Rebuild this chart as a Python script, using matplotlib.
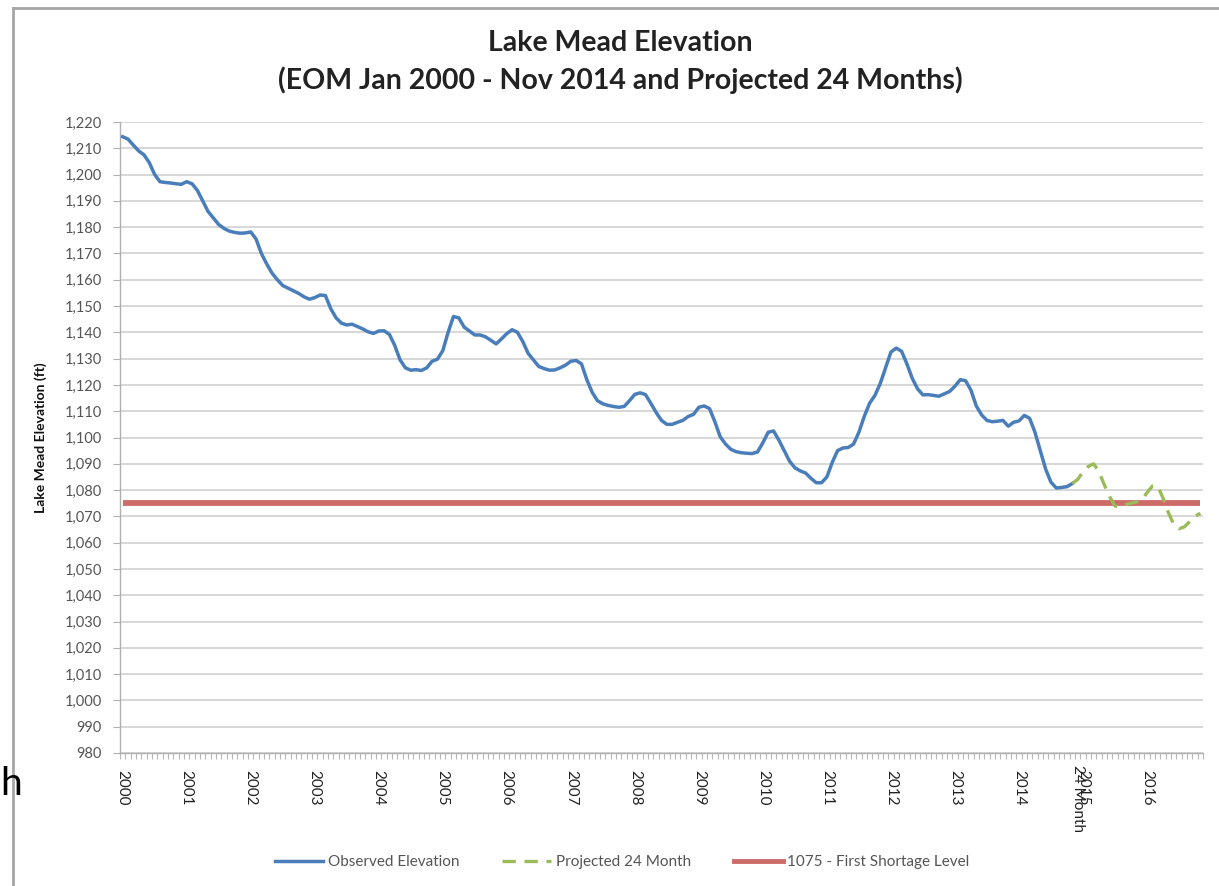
import numpy as np
import matplotlib
matplotlib.use('Agg')
import matplotlib.pyplot as plt
import matplotlib.transforms as mtransforms
from matplotlib.ticker import FuncFormatter
from matplotlib.lines import Line2D

# ---------------- data ----------------
# End-of-month observed elevation (ft), Jan 2000 - Nov 2014
observed = [
    1214.4, 1213.5, 1211.2, 1209.0, 1207.5, 1204.5, 1200.0, 1197.3, 1197.0, 1196.8, 1196.5, 1196.3,  # 2000
    1197.3, 1196.5, 1194.0, 1190.0, 1186.0, 1183.5, 1181.0, 1179.5, 1178.5, 1178.0, 1177.7, 1177.8,  # 2001
    1178.2, 1175.5, 1170.0, 1166.0, 1162.5, 1160.0, 1157.8, 1156.8, 1155.8, 1154.8, 1153.5, 1152.6,  # 2002
    1153.2, 1154.2, 1154.0, 1149.0, 1145.5, 1143.5, 1142.8, 1143.1, 1142.2, 1141.3, 1140.2, 1139.6,  # 2003
    1140.5, 1140.6, 1139.2, 1135.0, 1129.5, 1126.5, 1125.6, 1125.8, 1125.5, 1126.5, 1129.0, 1129.8,  # 2004
    1133.0, 1140.0, 1146.0, 1145.5, 1142.0, 1140.5, 1139.0, 1139.0, 1138.3, 1137.0, 1135.6, 1137.5,  # 2005
    1139.5, 1141.0, 1140.0, 1136.5, 1132.0, 1129.5, 1127.0, 1126.2, 1125.6, 1125.7, 1126.5, 1127.5,  # 2006
    1129.0, 1129.3, 1128.0, 1122.0, 1117.2, 1114.0, 1112.8, 1112.2, 1111.8, 1111.5, 1111.8, 1114.0,  # 2007
    1116.4, 1117.0, 1116.3, 1113.0, 1109.5, 1106.5, 1105.0, 1105.0, 1105.8, 1106.5, 1108.0, 1108.8,  # 2008
    1111.5, 1112.0, 1111.0, 1106.0, 1100.3, 1097.5, 1095.5, 1094.6, 1094.2, 1094.0, 1093.9, 1094.5,  # 2009
    1098.0, 1102.0, 1102.5, 1099.0, 1095.0, 1091.0, 1088.5, 1087.3, 1086.5, 1084.5, 1082.8, 1082.8,  # 2010
    1085.0, 1090.5, 1095.0, 1096.0, 1096.2, 1097.5, 1102.0, 1108.0, 1113.0, 1116.0, 1120.5, 1126.5,  # 2011
    1132.5, 1134.0, 1132.8, 1128.0, 1122.5, 1118.5, 1116.2, 1116.3, 1116.0, 1115.7, 1116.6, 1117.5,  # 2012
    1119.5, 1122.0, 1121.6, 1118.0, 1112.0, 1108.6, 1106.5, 1106.0, 1106.2, 1106.5, 1104.3, 1105.8,  # 2013
    1106.3, 1108.4, 1107.3, 1102.0, 1095.0, 1088.0, 1083.0, 1080.8, 1081.0, 1081.3, 1082.5,          # 2014
]
# Projected 24 months (Dec 2014 - Nov 2016), preceded by the last observed value (Nov 2014)
projected = [
    1082.5,
    1084.0, 1087.0, 1089.0, 1090.0, 1087.0, 1082.0, 1077.5, 1074.0, 1073.5, 1074.5, 1075.0, 1075.5,
    1076.2, 1079.0, 1081.5, 1081.5, 1077.0, 1071.5, 1067.0, 1065.3, 1066.0, 1068.0, 1070.0, 1071.2,
]
shortage_level = 1075
year_labels = ['2000', '2001', '2002', '2003', '2004', '2005', '2006', '2007', '2008',
               '2009', '2010', '2011', '2012', '2013', '2014', '2015', '2016']
extra_label = '24 Month'
series_names = ['Observed Elevation', 'Projected 24 Month', '1075 - First Shortage Level']

# ---------------- figure ----------------
W, H = 1219, 886
fig = plt.figure(figsize=(W / 100, H / 100), dpi=100)
fig.patch.set_facecolor('white')

FONT = ['Lato', 'DejaVu Sans']
plt.rcParams['font.family'] = FONT

x0, x1, y0, y1 = 120, 1203, 122, 753
ax = fig.add_axes([x0 / W, 1 - y1 / H, (x1 - x0) / W, (y1 - y0) / H])

n_obs = len(observed)
n_total = n_obs + len(projected) - 1
m_obs = np.arange(n_obs)
m_proj = np.arange(n_obs - 1, n_obs - 1 + len(projected))
m_all = np.arange(n_total)

blue = '#4a7ebb'
green = '#9bbb59'
red = '#cd6b69'
dash = (0, (4.0, 2.6))

ax.plot(m_all, [shortage_level] * n_total, color=red, lw=4.2, solid_capstyle='butt', zorder=3,
        label=series_names[2])
ax.plot(m_obs, observed, color=blue, lw=2.5, zorder=4, label=series_names[0])
ax.plot(m_proj, projected, color=green, lw=2.4, ls=dash, zorder=5, label=series_names[1])

ax.set_xlim(-0.4, n_total - 1 + 0.4)
ax.set_ylim(980, 1220)
ax.set_yticks(np.arange(980, 1221, 10))
ax.yaxis.set_major_formatter(FuncFormatter(lambda v, p: f'{int(v):,}'))
ax.grid(axis='y', color='#d4d4d4', lw=1.3)
ax.set_axisbelow(True)

for s in ['top', 'right']:
    ax.spines[s].set_visible(False)
for s in ['left', 'bottom']:
    ax.spines[s].set_color('#b0b0b0')
    ax.spines[s].set_linewidth(1.0)

ax.tick_params(axis='y', length=5, color='#b0b0b0', labelsize=10.5, labelcolor='#555555', pad=8)

# x: monthly minor ticks, yearly labels
ax.set_xticks(np.arange(-0.5, n_total, 1), minor=True)
ax.tick_params(axis='x', which='minor', length=4, color='#b8b8b8', width=0.8)
year_pos = [12 * i for i in range(len(year_labels))]
ax.set_xticks(year_pos)
ax.set_xticklabels(year_labels, rotation=270, fontsize=11, color='#222222')
ax.tick_params(axis='x', which='major', length=0, pad=12)
# overlapping category label of the projection start (as in the original chart)
ax.text(n_obs, 980, extra_label, rotation=270, fontsize=11, color='#222222', ha='center', va='top',
        transform=mtransforms.offset_copy(ax.transData, fig=fig, y=-12, units='dots'))

ax.set_ylabel('Lake Mead Elevation (ft)', fontsize=10, fontweight='bold', color='#111111')
ax.yaxis.set_label_coords((47 - x0) / (x1 - x0), 0.5)

# title
fig.text(620 / W, 1 - 43 / H, 'Lake Mead Elevation', ha='center', va='center',
         fontsize=20.5, fontweight='bold', color='#222222')
fig.text(620 / W, 1 - 80 / H, '(EOM Jan 2000 - Nov 2014 and Projected 24 Months)', ha='center', va='center',
         fontsize=20.5, fontweight='bold', color='#222222')

# legend
handles = [Line2D([], [], color=blue, lw=2.5),
           Line2D([], [], color=green, lw=2.4, ls=dash),
           Line2D([], [], color=red, lw=3.5)]
leg = fig.legend(handles, series_names, loc='center', bbox_to_anchor=(622 / W, 1 - 862 / H),
                 ncol=3, frameon=False, fontsize=11, handlelength=3.2, handletextpad=0.3,
                 columnspacing=2.8)
for t in leg.get_texts():
    t.set_color('#555555')

# chart frame
fig.add_artist(Line2D([13 / W, 13 / W], [0, 1 - 8 / H], transform=fig.transFigure, color='#a6a6a6', lw=2))
fig.add_artist(Line2D([13 / W, 1], [1 - 8 / H, 1 - 8 / H], transform=fig.transFigure, color='#a6a6a6', lw=2))
# fragment of slide text behind the chart
fig.text(0.5 / W, 1 - 795 / H, 'h', fontsize=28, color='black', family=['Lato', 'DejaVu Sans'])

fig.savefig('out.png', dpi=100, facecolor='white')
